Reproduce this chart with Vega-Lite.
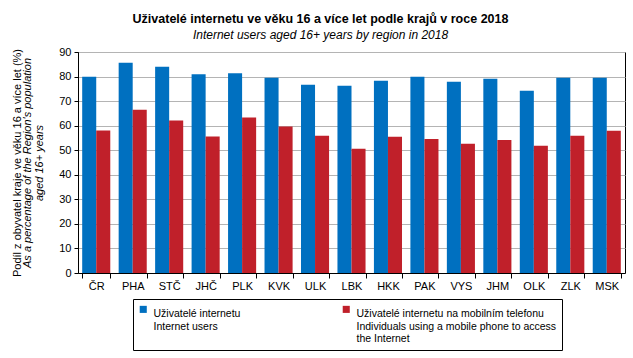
{
  "$schema": "https://vega.github.io/schema/vega-lite/v6.json",
  "width": 547,
  "height": 221,
  "autosize": "none",
  "padding": {"left": 78, "top": 52, "right": 8, "bottom": 85},
  "background": "white",
  "title": {
    "text": "Uživatelé internetu ve věku 16 a více let podle krajů v roce 2018",
    "subtitle": "Internet users aged 16+ years by region in 2018",
    "font": "Liberation Sans",
    "fontSize": 12.5,
    "fontWeight": "bold",
    "color": "black",
    "subtitleFont": "Liberation Sans",
    "subtitleFontSize": 12,
    "subtitleFontStyle": "italic",
    "subtitleColor": "black",
    "subtitlePadding": 4,
    "anchor": "middle",
    "frame": "group",
    "dx": -31,
    "dy": 152,
    "offset": 11
  },
  "data": {
    "values": [
      {"region": "ČR", "series": "Uživatelé internetu", "value": 79.9},
      {"region": "ČR", "series": "Uživatelé internetu na mobilním telefonu", "value": 58.0},
      {"region": "PHA", "series": "Uživatelé internetu", "value": 85.6},
      {"region": "PHA", "series": "Uživatelé internetu na mobilním telefonu", "value": 66.5},
      {"region": "STČ", "series": "Uživatelé internetu", "value": 84.0},
      {"region": "STČ", "series": "Uživatelé internetu na mobilním telefonu", "value": 62.1},
      {"region": "JHČ", "series": "Uživatelé internetu", "value": 80.9},
      {"region": "JHČ", "series": "Uživatelé internetu na mobilním telefonu", "value": 55.6},
      {"region": "PLK", "series": "Uživatelé internetu", "value": 81.3},
      {"region": "PLK", "series": "Uživatelé internetu na mobilním telefonu", "value": 63.3},
      {"region": "KVK", "series": "Uživatelé internetu", "value": 79.5},
      {"region": "KVK", "series": "Uživatelé internetu na mobilním telefonu", "value": 59.7},
      {"region": "ULK", "series": "Uživatelé internetu", "value": 76.7},
      {"region": "ULK", "series": "Uživatelé internetu na mobilním telefonu", "value": 55.9},
      {"region": "LBK", "series": "Uživatelé internetu", "value": 76.3},
      {"region": "LBK", "series": "Uživatelé internetu na mobilním telefonu", "value": 50.6},
      {"region": "HKK", "series": "Uživatelé internetu", "value": 78.3},
      {"region": "HKK", "series": "Uživatelé internetu na mobilním telefonu", "value": 55.5},
      {"region": "PAK", "series": "Uživatelé internetu", "value": 79.9},
      {"region": "PAK", "series": "Uživatelé internetu na mobilním telefonu", "value": 54.6},
      {"region": "VYS", "series": "Uživatelé internetu", "value": 77.9},
      {"region": "VYS", "series": "Uživatelé internetu na mobilním telefonu", "value": 52.6},
      {"region": "JHM", "series": "Uživatelé internetu", "value": 79.1},
      {"region": "JHM", "series": "Uživatelé internetu na mobilním telefonu", "value": 54.2},
      {"region": "OLK", "series": "Uživatelé internetu", "value": 74.2},
      {"region": "OLK", "series": "Uživatelé internetu na mobilním telefonu", "value": 51.8},
      {"region": "ZLK", "series": "Uživatelé internetu", "value": 79.5},
      {"region": "ZLK", "series": "Uživatelé internetu na mobilním telefonu", "value": 55.9},
      {"region": "MSK", "series": "Uživatelé internetu", "value": 79.5},
      {"region": "MSK", "series": "Uživatelé internetu na mobilním telefonu", "value": 57.9}
    ]
  },
  "config": {
    "view": {"stroke": "black", "strokeWidth": 1},
    "axis": {
      "labelFont": "Liberation Sans",
      "labelFontSize": 11,
      "labelColor": "black",
      "domainColor": "black",
      "tickColor": "black",
      "titleFont": "Liberation Sans",
      "titleFontSize": 11,
      "titleFontWeight": "normal",
      "titleColor": "black"
    },
    "legend": {
      "labelFont": "Liberation Sans",
      "labelFontSize": 10.5,
      "labelColor": "black",
      "columnPadding": 100
    }
  },
  "resolve": {"scale": {"y": "independent"}, "axis": {"y": "independent"}},
  "layer": [
    {
      "mark": {"type": "bar"},
      "encoding": {
        "x": {
          "field": "region",
          "type": "nominal",
          "sort": null,
          "scale": {"paddingInner": 0.23, "paddingOuter": 0.115},
          "axis": {"title": null, "labelAngle": 0, "tickBand": "extent", "tickSize": 5, "labelPadding": 2, "grid": false}
        },
        "xOffset": {"field": "series", "type": "nominal", "sort": null},
        "y": {
          "field": "value",
          "type": "quantitative",
          "scale": {"domain": [0, 90], "nice": false},
          "axis": {
            "orient": "left",
            "values": [0, 10, 20, 30, 40, 50, 60, 70, 80, 90],
            "grid": true,
            "gridColor": "#b4b4b4",
            "tickSize": 4,
            "labelPadding": 3,
            "title": ["As a percentage of the Region's population", "aged 16+ years"],
            "titleFontStyle": "italic",
            "titlePadding": 14,
            "titleLineHeight": 12
          }
        },
        "color": {
          "field": "series",
          "type": "nominal",
          "scale": {
            "domain": ["Uživatelé internetu", "Uživatelé internetu na mobilním telefonu"],
            "range": ["#0070C0", "#C0202A"]
          },
          "legend": {
            "title": null,
            "orient": "none",
            "legendX": 55,
            "legendY": 247,
            "direction": "horizontal",
            "columns": 2,
            "columnPadding": 100,
            "symbolType": "square",
            "symbolSize": 50,
            "symbolStrokeWidth": 0,
            "labelLimit": 300,
            "labelBaseline": "top",
            "labelOffset": 5,
            "labelExpr": "datum.label == 'Uživatelé internetu' ? ['Uživatelé internetu', 'Internet users', ''] : ['Uživatelé internetu na mobilním telefonu', 'Individuals using a mobile phone to access', 'the Internet']",
            "strokeColor": "black",
            "padding": 5,
            "fillColor": "white"
          }
        }
      }
    },
    {
      "mark": {"type": "bar", "opacity": 0},
      "encoding": {
        "x": {"field": "region", "type": "nominal", "sort": null},
        "y": {
          "field": "value",
          "type": "quantitative",
          "scale": {"domain": [0, 90], "nice": false},
          "axis": {
            "orient": "left",
            "labels": false,
            "ticks": false,
            "domain": false,
            "grid": false,
            "title": "Podíl z obyvatel kraje ve věku 16 a více let (%)",
            "titlePadding": 56
          }
        }
      }
    }
  ]
}
